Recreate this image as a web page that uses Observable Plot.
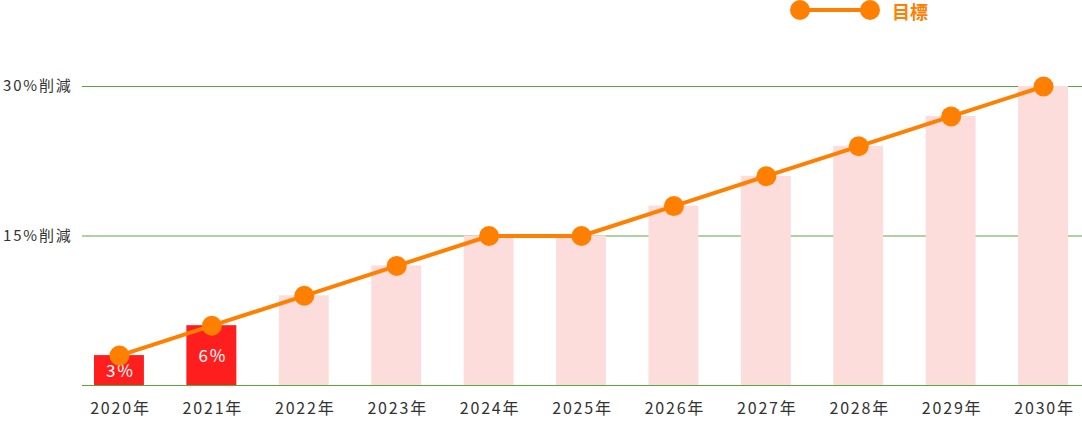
<!DOCTYPE html>
<html><head><meta charset="utf-8">
<script src="https://cdn.jsdelivr.net/npm/d3@7"></script>
<script src="https://cdn.jsdelivr.net/npm/@observablehq/plot@0.6"></script>
<style>
html,body{margin:0;padding:0;background:#fff;}
body{width:1082px;height:421px;overflow:hidden;font-family:"Noto Sans CJK JP","Noto Sans",sans-serif;}
#legend{position:relative;height:30px;width:1082px;}
#legend svg{position:absolute;left:788px;top:0;}
#legend span{position:absolute;left:892px;top:-1px;font-size:18px;font-weight:bold;color:#ff8000;line-height:24px;}
#chart svg text{letter-spacing:1.8px;}
</style>
</head><body>
<div id="legend"><svg width="96" height="22"><line x1="12" y1="10" x2="82" y2="10" stroke="#ff8000" stroke-width="4"/><circle cx="12" cy="10" r="10" fill="#ff8000"/><circle cx="82" cy="10" r="10" fill="#ff8000"/></svg><span>目標</span></div>
<div id="chart"></div>
<script>
const years = ["2020年","2021年","2022年","2023年","2024年","2025年","2026年","2027年","2028年","2029年","2030年"];
const targets = [3,6,9,12,15,15,18,21,24,27,30];
const actualYears = ["2020年","2021年"];
const actuals = [3,6];
const actualLabels = ["3%","6%"];
const yTicks = [15,30];
const yTickLabels = ["15%削減","30%削減"];

const targetData = years.map((y,i)=>({year:y, value:targets[i]}));
const actualData = actualYears.map((y,i)=>({year:y, value:actuals[i], label:actualLabels[i]}));

const chart = Plot.plot({
  width: 1082,
  height: 391,
  marginLeft: 82,
  marginRight: 0,
  marginTop: 56,
  marginBottom: 36,
  style: {fontFamily: '"Noto Sans CJK JP","Noto Sans",sans-serif', background: "#fff"},
  x: {domain: years, range: [94, 1068], paddingInner: 0.46, paddingOuter: 0, round: false, label: null},
  y: {domain: [0, 30], label: null},
  marks: [
    Plot.ruleY(yTicks, {stroke: "#5aa83a", strokeWidth: 1}),
    Plot.ruleY([0], {stroke: "#5aa83a", strokeWidth: 1}),
    Plot.barY(targetData, {x: "year", y: "value", fill: "#fddcdc"}),
    Plot.barY(actualData, {x: "year", y: "value", fill: "#ff1e1e"}),
    Plot.text(actualData, {x: "year", y: d => d.value/2, text: "label", fill: "#fff", fontSize: 17, dy: 1, dx: 1}),
    Plot.line(targetData, {x: "year", y: "value", stroke: "#ff8000", strokeWidth: 4}),
    Plot.dot(targetData, {x: "year", y: "value", r: 10, fill: "#ff8000"}),
    Plot.axisX({tickSize: 0, tickPadding: 17, fontSize: 16, fill: "#333", label: null, dx: 1}),
    Plot.axisY({ticks: yTicks, tickFormat: d => yTickLabels[yTicks.indexOf(d)], tickSize: 0, tickPadding: 10, fontSize: 15, fill: "#333", label: null})
  ]
});
document.getElementById("chart").appendChild(chart);
</script>
</body></html>
